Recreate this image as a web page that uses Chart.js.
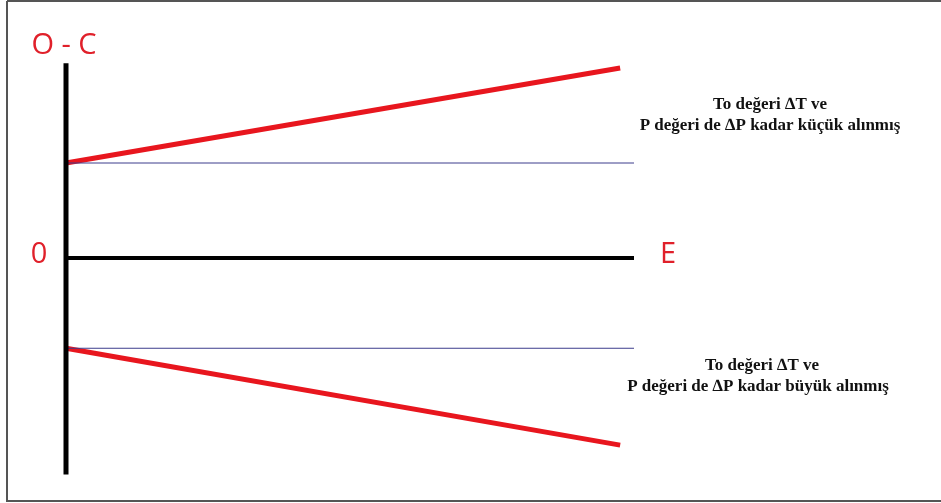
<!DOCTYPE html>
<html>
<head>
<meta charset="utf-8">
<script src="https://cdn.jsdelivr.net/npm/chart.js@4"></script>
<style>
  html, body { margin: 0; padding: 0; background: #fff; }
  #wrap { width: 941px; height: 503px; }
</style>
</head>
<body>
<div id="wrap"><canvas id="oc"></canvas></div>
<script>
// E axis (x) and O-C (y) in arbitrary units
const axisE = [0, 10.25];
const axisOC = [2.05, -2.28];
const refUpper = [1, 1];
const refLower = [-0.95, -0.95];
const redUpper = [1, 2.0];
const redLower = [-0.95, -1.97];
const redE = [0, 10];

const labelsText = {
  yTitle: "O - C",
  zero: "0",
  xTitle: "E",
  upper: ["To değeri \u2206T ve", "P değeri de \u2206P kadar küçük alınmış"],
  lower: ["To değeri \u2206T ve", "P değeri de \u2206P kadar büyük alınmış"]
};

function pts(xs, ys) {
  return xs.map((x, i) => ({ x: x, y: ys[i] }));
}

const textPlugin = {
  id: "texts",
  beforeDraw(chart) {
    const c = chart.ctx;
    c.save();
    c.fillStyle = "#fff";
    c.fillRect(0, 0, chart.width, chart.height);
    c.strokeStyle = "#555";
    c.lineWidth = 2;
    c.beginPath();
    c.moveTo(7, 1); c.lineTo(941, 1);
    c.moveTo(7, 1); c.lineTo(7, 501);
    c.lineTo(941, 501);
    c.stroke();
    c.restore();
  },
  afterDraw(chart) {
    const c = chart.ctx;
    const ys = chart.scales.y;
    c.save();
    c.fillStyle = "#e0202a";
    c.font = "29px 'Open Sans', sans-serif";
    c.textAlign = "center";
    c.textBaseline = "middle";
    c.fillText(labelsText.yTitle, 64, 46);
    c.fillText(labelsText.zero, 39, ys.getPixelForValue(0) - 3);
    c.fillText(labelsText.xTitle, 668, ys.getPixelForValue(0) - 3);

    c.fillStyle = "#111";
    c.font = "bold 17px 'Liberation Serif', serif";
    c.fillText(labelsText.upper[0], 770, 105);
    c.fillText(labelsText.upper[1], 770, 126);
    c.fillText(labelsText.lower[0], 762, 366);
    c.fillText(labelsText.lower[1], 758, 387);
    c.restore();
  }
};

new Chart(document.getElementById("oc"), {
  type: "line",
  data: {
    datasets: [
      { data: pts([axisE[0], axisE[0]], axisOC), borderColor: "#000", borderWidth: 5 },
      { data: pts(axisE, [0, 0]), borderColor: "#000", borderWidth: 4 },
      { data: pts(axisE, refUpper), borderColor: "#3c3c8c", borderWidth: 1 },
      { data: pts(axisE, refLower), borderColor: "#3c3c8c", borderWidth: 1 },
      { data: pts(redE, redUpper), borderColor: "#e8161e", borderWidth: 5 },
      { data: pts(redE, redLower), borderColor: "#e8161e", borderWidth: 5 }
    ]
  },
  options: {
    responsive: true,
    maintainAspectRatio: false,
    animation: false,
    layout: { padding: { left: 66, right: 307, top: 20.5, bottom: 7.5 } },
    elements: { point: { radius: 0 }, line: { tension: 0, borderCapStyle: "butt" } },
    datasets: { line: { clip: false } },
    plugins: { legend: { display: false }, tooltip: { enabled: false } },
    scales: {
      x: { type: "linear", min: 0, max: 10.25, display: false },
      y: { type: "linear", min: -2.5, max: 2.5, display: false }
    }
  },
  plugins: [textPlugin]
});
</script>
</body>
</html>
